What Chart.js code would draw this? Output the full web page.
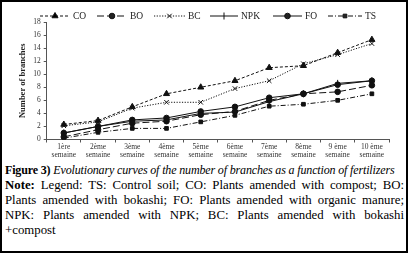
<!DOCTYPE html>
<html>
<head>
<meta charset="utf-8">
<script src="https://cdn.jsdelivr.net/npm/chart.js@4.4.1/dist/chart.umd.min.js"></script>
<style>
html,body{margin:0;padding:0;background:#fff;}
#wrap{width:408px;height:253px;box-sizing:border-box;border:2px solid #000;position:relative;overflow:hidden;}
#cbox{position:absolute;left:0;top:0;width:404px;height:157px;}
#cap{position:absolute;left:3px;top:161px;width:399px;font-family:"Liberation Serif",serif;font-size:12.8px;line-height:15px;color:#000;}
#cap .t{white-space:nowrap;font-size:12px;letter-spacing:-0.15px;}
#cap .j{text-align:justify;text-align-last:justify;white-space:nowrap;}
#cap .l{text-align:left;}
</style>
</head>
<body>
<div id="wrap">
<div id="cbox"><canvas id="c"></canvas></div>
<div id="cap">
<div class="t"><b style="font-weight:600">Figure 3)</b> <i>Evolutionary curves of the number of branches as a function of fertilizers</i></div>
<div class="j"><b style="font-weight:600">Note:</b> Legend: TS: Control soil; CO: Plants amended with compost; BO:</div>
<div class="j">Plants amended with bokashi; FO: Plants amended with organic manure;</div>
<div class="j">NPK: Plants amended with NPK; BC: Plants amended with bokashi</div>
<div class="l">+compost</div>
</div>
</div>
<script>
const categories = [["1ère","semaine"],["2ème","semaine"],["3ème","semaine"],["4ème","semaine"],["5ème","semaine"],["6ème","semaine"],["7ème","semaine"],["8ème","semaine"],["9 ème","semaine"],["10 ème","semaine"]];
const CO  = [2.3, 2.9, 5.0, 7.0, 8.0, 9.0, 11.0, 11.3, 13.3, 15.3];
const BO  = [0.4, 1.5, 2.5, 2.8, 3.8, 4.3, 6.0, 7.0, 7.3, 8.3];
const BC  = [2.1, 2.7, 4.8, 5.7, 5.7, 7.8, 9.0, 11.6, 13.0, 14.7];
const NPK = [1.0, 2.0, 2.8, 3.0, 4.0, 4.2, 5.8, 7.0, 8.6, 9.0];
const FO  = [1.0, 2.0, 3.0, 3.3, 4.3, 5.0, 6.4, 7.0, 8.4, 9.0];
const TS  = [0.2, 1.1, 1.7, 1.7, 2.7, 3.7, 5.1, 5.4, 6.0, 7.0];
const yTicks = [0,2,4,6,8,10,12,14,16,18];

const ink = '#111';
function ds(label, data, dash, ps, rad){
  return {label, data, borderColor:ink, backgroundColor:ink, borderWidth:1, borderDash:dash,
    pointStyle:ps, pointRadius:rad, pointBorderColor:ink, pointBackgroundColor:ink, pointBorderWidth:1, tension:0};
}
const datasets = [
  ds('CO', CO, [3,2], 'triangle', 3.5),
  ds('BO', BO, [7,3], 'circle', 2.8),
  ds('BC', BC, [1.2,1.5], 'crossRot', 3.2),
  ds('NPK', NPK, [], 'line', 3.5),
  ds('FO', FO, [], 'circle', 2.8),
  ds('TS', TS, [5,2,1,2], 'rect', 2.6)
];
datasets[3].rotation = 90;

const legendPos = [ {x:38,w:30}, {x:95,w:30}, {x:152,w:31}, {x:208,w:28}, {x:271,w:29}, {x:326,w:34} ];
const legendPlugin = {
  id:'customLegend',
  afterDraw(chart){
    const ctx = chart.ctx;
    ctx.save();
    chart.data.datasets.forEach((d,i)=>{
      const p = legendPos[i]; const y = 14;
      ctx.strokeStyle = ink; ctx.lineWidth = 1; ctx.setLineDash(d.borderDash);
      ctx.beginPath(); ctx.moveTo(p.x,y); ctx.lineTo(p.x+p.w,y); ctx.stroke();
      ctx.setLineDash([]);
      Chart.helpers.drawPoint(ctx, {pointStyle:d.pointStyle, radius:d.pointRadius, borderWidth:1, rotation:d.rotation||0}, p.x+p.w/2, y);
      ctx.fillStyle = '#222';
      ctx.font = '9.5px "Liberation Serif", serif';
      ctx.textBaseline = 'middle';
      ctx.fillText(d.label, p.x+p.w+3, y+0.5);
    });
    ctx.restore();
  }
};

new Chart(document.getElementById('c'), {
  type:'line',
  data:{labels:categories, datasets},
  options:{
    responsive:true, maintainAspectRatio:false, animation:false,
    layout:{padding:{top:20,right:17,left:16,bottom:0}},
    plugins:{legend:{display:false}, tooltip:{enabled:false}},
    scales:{
      x:{
        offset:true,
        grid:{display:true, drawOnChartArea:false, drawTicks:true, tickLength:3, color:'#555', offset:true},
        border:{color:'#555', width:1},
        ticks:{color:'#333', font:{family:'"Liberation Serif", serif', size:7.5, lineHeight:1.1}, maxRotation:0, autoSkip:false, padding:0}
      },
      y:{
        min:0, max:18,
        afterBuildTicks(axis){ axis.ticks = yTicks.map(v=>({value:v})); },
        grid:{display:true, drawOnChartArea:false, tickLength:3, color:'#555'},
        border:{color:'#555', width:1},
        ticks:{color:'#333', font:{family:'"Liberation Serif", serif', size:7.5}, padding:3},
        title:{display:true, text:'Number of branches', color:'#222', font:{family:'"Liberation Serif", serif', size:8.5, weight:'bold'}, padding:{top:0,bottom:2}}
      }
    }
  },
  plugins:[legendPlugin]
});
</script>
</body>
</html>
